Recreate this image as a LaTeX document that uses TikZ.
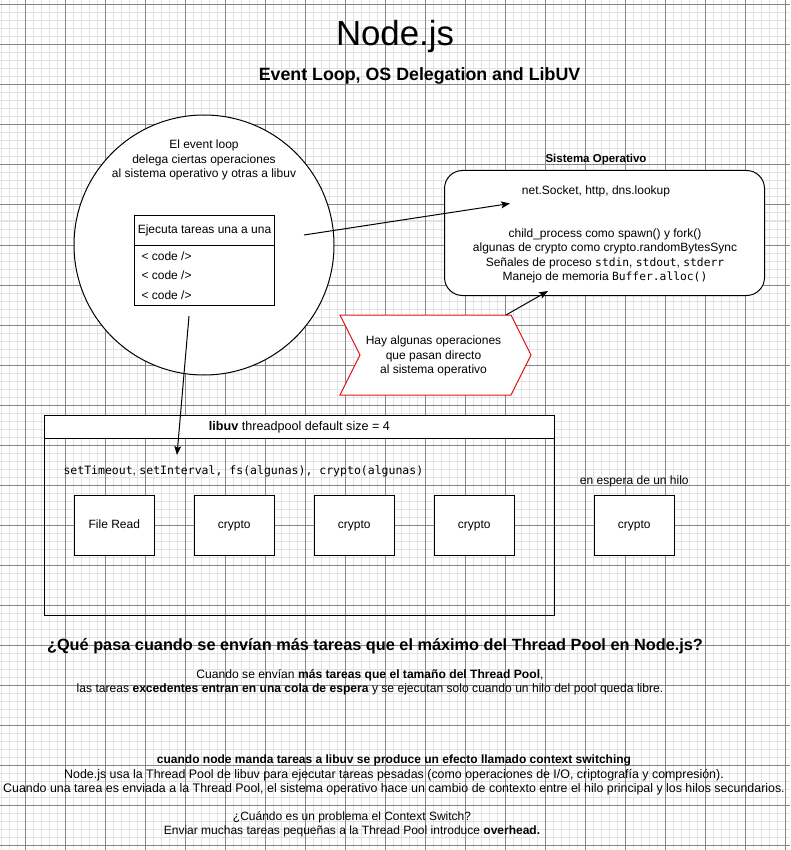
\documentclass[tikz,border=0pt]{standalone}
\usepackage{fontspec}
\setmainfont{Liberation Sans}
\newfontfamily\monof{DejaVu Sans Mono}
\usetikzlibrary{arrows.meta}
\definecolor{gridminor}{RGB}{226,226,226}
\definecolor{gridmajor}{RGB}{135,135,135}
\definecolor{redline}{RGB}{224,20,20}
\newcommand\myfs[2]{\fontsize{#1}{#2}\selectfont}
\newcommand\mc[1]{{\monof\myfs{11.3}{14}#1}}
\newcommand\mcb[1]{{\monof\myfs{11.5}{14}#1}}
\begin{document}
\begin{tikzpicture}[x=1pt,y=-1pt,line width=1pt,
  txt/.style={inner sep=0pt,align=center,font=\myfs{12}{14.4}},
  bx/.style={draw=black,fill=white,inner sep=0pt,font=\myfs{12}{14.4}},
  task/.style={bx,minimum width=80pt,minimum height=60pt,text height=9pt,text depth=2.6pt},
  arr/.style={-{Stealth[length=9pt,width=7pt,inset=2pt]},line width=1pt}]
\useasboundingbox (0,0) rectangle (790,850);
\fill[white] (0,0) rectangle (790,850);
\foreach \x in {1.5,9.5,...,790} \draw[gridminor] (\x,0) -- (\x,850);
\foreach \y in {5,13,...,850} \draw[gridminor] (0,\y) -- (790,\y);
\foreach \x in {25.5,65.5,...,790} \draw[gridmajor] (\x,0) -- (\x,850);
\foreach \y in {5,45,...,850} \draw[gridmajor] (0,\y) -- (790,\y);

% titles
\node[txt,font=\myfs{34.8}{40}] (title) at (395,37) {Node.js};
\node[txt,font=\bfseries\myfs{17.8}{20}] (subtitle) at (419.5,76) {Event Loop, OS Delegation and LibUV};

% event loop circle
\node[circle,draw=black,fill=white,minimum size=260pt,inner sep=0pt] (loop) at (204,245) {};
\node[txt] (looptxt) at (204,160) {El event loop\\delega ciertas operaciones\\al sistema operativo y otras a libuv};
\node[bx,minimum width=140pt,minimum height=30pt,anchor=north west] (codehead) at (134,215) {Ejecuta tareas una a una};
\node[bx,minimum width=140pt,minimum height=60pt,anchor=north west] (codebody) at (134,245) {};
\node[txt,anchor=west] (code1) at (141,256) {< code />};
\node[txt,anchor=west] (code2) at (141,275.5) {< code />};
\node[txt,anchor=west] (code3) at (141,295) {< code />};

% OS box
\node[txt,font=\bfseries\myfs{11.5}{14}] (ostitle) at (596,160) {Sistema Operativo};
\node[bx,rounded corners=18pt,minimum width=320pt,minimum height=125pt,anchor=north west] (os) at (444,170) {};
\node[txt] (net) at (596,191.5) {net.Socket, http, dns.lookup};
\node[txt,font=\myfs{12}{14.5}] (osops) at (605,256) {child\_process como spawn() y fork()\\algunas de crypto como crypto.randomBytesSync\\Señales de proceso \mc{stdin}, \mc{stdout}, \mc{stderr}\\Manejo de memoria \mc{Buffer.alloc()}};

% red chevron
\draw[redline,fill=white] (340,315) -- (511,315) -- (531,355) -- (511,395) -- (340,395) -- (360,355) -- cycle;
\coordinate (chevtop) at (506,315);
\node[txt,font=\myfs{12}{14.3}] (chevtxt) at (433.5,356) {Hay algunas operaciones\\que pasan directo\\ al sistema operativo};

% libuv pool
\node[draw=black,inner sep=0pt,minimum width=510pt,minimum height=200pt,anchor=north west] (pool) at (44,415) {};
\node[bx,font=\myfs{12.6}{14.4},minimum width=510pt,minimum height=23pt,anchor=north west] (poolhead) at (44,415) {\textbf{libuv} threadpool default size = 4};
\node[txt,anchor=west] (apis) at (63,471.5) {\mcb{setTimeout}, \mcb{setInterval, fs(algunas), crypto(algunas)}};
\node[task] (t1) at (114.3,525) {File Read};
\node[task] (t2) at (234.3,525) {crypto};
\node[task] (t3) at (354.3,525) {crypto};
\node[task] (t4) at (474.3,525) {crypto};
\node[txt] (waitlbl) at (634.3,481) {en espera de un hilo};
\node[task] (t5) at (634.3,525) {crypto};

% connectors
\coordinate (a1s) at (304,235);
\coordinate (a1e) at (510,203.5);
\coordinate (a2s) at (189,316);
\coordinate (a2e) at (177,455);
\coordinate (a3e) at (548,291);
\draw[arr] (a1s) -- (a1e);
\draw[arr] (a2s) -- (a2e);
\draw[arr] (chevtop) -- (a3e);

% bottom texts
\node[txt,font=\bfseries\myfs{16.3}{18}] (question) at (375,646) {¿Qué pasa cuando se envían más tareas que el máximo del Thread Pool en Node.js?};
\node[txt,font=\myfs{12.1}{14.4}] (ans) at (370,682) {Cuando se envían \textbf{más tareas que el tamaño del Thread Pool},\\las tareas \textbf{excedentes entran en una cola de espera} y se ejecutan solo cuando un hilo del pool queda libre.};
\node[txt,font=\myfs{12.4}{14.2}] (ctx) at (394,775) {{\bfseries\myfs{12}{14.2}cuando node manda tareas a libuv se produce un efecto llamado context switching}\\Node.js usa la Thread Pool de libuv para ejecutar tareas pesadas (como operaciones de I/O, criptografía y compresión).\\Cuando una tarea es enviada a la Thread Pool, el sistema operativo hace un cambio de contexto entre el hilo principal y los hilos secundarios.};
\node[txt] (prob) at (352,824.5) {¿Cuándo es un problema el Context Switch?\\Enviar muchas tareas pequeñas a la Thread Pool introduce \textbf{overhead.}};
\end{tikzpicture}
\end{document}
